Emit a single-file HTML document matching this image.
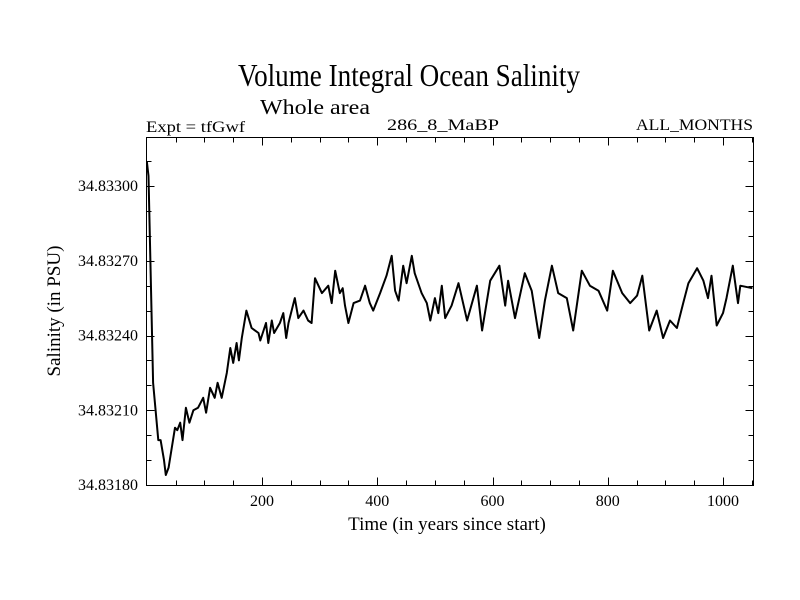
<!DOCTYPE html>
<html><head><meta charset="utf-8"><style>
html,body{margin:0;padding:0;background:#fff;}
svg{display:block;font-family:"Liberation Serif",serif;}
</style></head><body>
<svg id="chart" width="800" height="600" viewBox="0 0 800 600" xmlns="http://www.w3.org/2000/svg">
<defs><clipPath id="pc"><rect x="146" y="137" width="608" height="349"/></clipPath></defs>
<text x="238" y="86" font-size="32" textLength="342" lengthAdjust="spacingAndGlyphs">Volume Integral Ocean Salinity</text>
<text x="260" y="114" font-size="21" textLength="110" lengthAdjust="spacingAndGlyphs">Whole area</text>
<text x="146" y="132" font-size="16" textLength="99" lengthAdjust="spacingAndGlyphs">Expt = tfGwf</text>
<text x="387" y="130" font-size="16" textLength="112" lengthAdjust="spacingAndGlyphs">286_8_MaBP</text>
<text x="636" y="130" font-size="16" textLength="117" lengthAdjust="spacingAndGlyphs">ALL_MONTHS</text>
<text transform="translate(60,311) rotate(-90)" text-anchor="middle" font-size="19">Salinity (in PSU)</text>
<text x="447" y="530" text-anchor="middle" font-size="19">Time (in years since start)</text>
<g id="axes"></g>
<rect x="146.5" y="137.5" width="607" height="348" fill="none" stroke="#000" stroke-width="1"/>
<path id="series" clip-path="url(#pc)" fill="none" stroke="#000" stroke-width="2" stroke-linejoin="round"/>
</svg>
<script>
const years = [0,3,11,20,24,30,33,38,42,49,53,58,62,68,74,81,89,98,103,110,118,123,130,139,145,150,156,160,165,173,182,194,197,207,211,217,221,231,237,242,246,257,263,272,280,286,292,304,315,321,327,335,340,344,350,359,370,379,387,393,405,416,425,431,437,445,451,460,465,477,486,492,500,506,512,518,529,541,556,573,582,596,612,622,627,639,656,668,681,691,703,714,729,740,755,769,784,799,809,825,839,851,860,872,885,896,908,920,931,940,955,966,974,980,989,1000,1006,1017,1026,1030,1051];
const salinity = [130,124,41,18,18,10,4,7,13,23,22,25,18,31,25,30,31,35,29,39,35,41,35,45,55,49,57,50,59,70,63,61,58,65,57,66,61,65,69,59,65,75,67,70,66,65,83,77,80,73,86,77,79,72,65,73,74,80,73,70,77,84,92,78,74,88,81,92,85,77,73,66,75,69,80,67,72,81,66,80,62,82,88,72,82,67,85,78,59,74,88,77,75,62,86,80,78,70,86,77,73,76,84,62,70,59,66,63,73,81,87,82,75,84,64,69,75,88,73,80,79];
const xTicks = [200,400,600,800,1000];
const yTicks = [34.8318,34.8321,34.8324,34.8327,34.8330];
const yTickLabels = ["34.83180","34.83210","34.83240","34.83270","34.83300"];
const base = 34.8318, unit = 1e-5;
const L=146.5,R=753.5,T=137.5,B=485.5;
const x = v => 146.75 + v*0.57625;
const y = s => 485 - (s-base)/0.0012*299;
const ys = u => y(base + u*unit);
const NS="http://www.w3.org/2000/svg";
const axes=document.getElementById('axes');
function line(x1,y1,x2,y2,name){const l=document.createElementNS(NS,'line');
l.setAttribute('x1',x1);l.setAttribute('y1',y1);l.setAttribute('x2',x2);l.setAttribute('y2',y2);
l.setAttribute('stroke','#000');l.setAttribute('stroke-width','1');


axes.appendChild(l);}
for(let v=50;v<1053;v+=50){const px=Math.round(x(v))+0.5;const len=(v%200===0)?8:5;
line(px,B,px,B-len,'x-tick');line(px,T,px,T+len,'x-tick-top');}
for(let k=0;k<=13;k++){const s=34.8318+k*0.0001;const py=Math.round(y(s))+0.5;if(py<T)continue;const len=(k%3===0)?8:5;
line(L,py,L+len,py,'y-tick');line(R,py,R-len,py,'y-tick-right');}
xTicks.forEach(v=>{const t=document.createElementNS(NS,'text');t.setAttribute('x',x(v));t.setAttribute('y',506);
t.setAttribute('text-anchor','middle');t.setAttribute('font-size','16');t.textContent=String(v);


axes.appendChild(t);});
yTicks.forEach((s,i)=>{const t=document.createElementNS(NS,'text');t.setAttribute('x',138);t.setAttribute('y',y(s)+5);
t.setAttribute('text-anchor','end');t.setAttribute('font-size','16');t.textContent=yTickLabels[i];


axes.appendChild(t);});
let d='';years.forEach((v,i)=>{d+=(i?'L':'M')+x(v).toFixed(1)+','+ys(salinity[i]).toFixed(1);});
document.getElementById('series').setAttribute('d',d);
</script>
</body></html>
